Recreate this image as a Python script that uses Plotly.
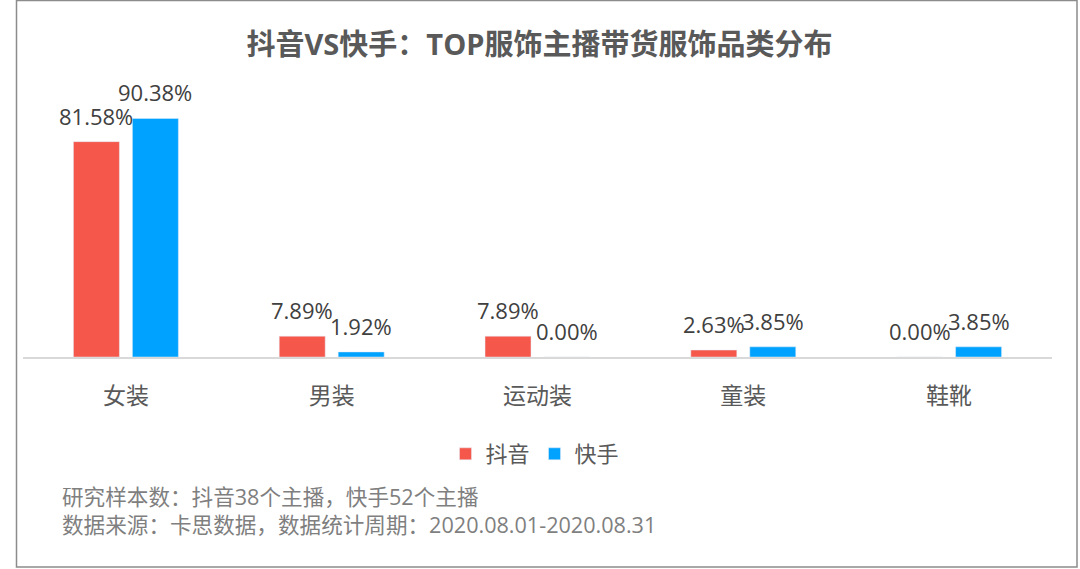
import plotly.graph_objects as go

categories = ["女装", "男装", "运动装", "童装", "鞋靴"]
douyin = [81.58, 7.89, 7.89, 2.63, 0.00]
kuaishou = [90.38, 1.92, 0.00, 3.85, 3.85]
series_names = ["抖音", "快手"]
title_text = "抖音VS快手：TOP服饰主播带货服饰品类分布"
notes = ["研究样本数：抖音38个主播，快手52个主播",
         "数据来源：卡思数据，数据统计周期：2020.08.01-2020.08.31"]

FONT = "Open Sans, Noto Sans CJK SC, sans-serif"
colors = ["#F5574B", "#00A2FF"]

fig = go.Figure()
for name, vals, c in zip(series_names, [douyin, kuaishou], colors):
    fig.add_trace(go.Bar(x=categories, y=vals, name=name, marker_color=c,
                         hoverinfo="skip"))

L, R, T, B = 23, 28, 93, 212
W, H = 1080, 569
pw, ph = W - L - R, H - T - B

def px(x):
    return (x - L) / pw

def py(y):
    return (H - B - y) / ph

# value labels above bars
slot = pw / len(categories) * (1 - 0.427) / 2
for k, vals in enumerate([douyin, kuaishou]):
    shift = (k - 0.5) * slot
    for cat, v in zip(categories, vals):
        fig.add_annotation(x=cat, y=v, xref="x", yref="y", text=f"{v:.2f}%",
                           showarrow=False, xshift=shift, yanchor="bottom", yshift=9,
                           font=dict(size=22, color="#404040", family=FONT))

fig.update_layout(
    width=W, height=H,
    margin=dict(l=L, r=R, t=T, b=B),
    paper_bgcolor="white", plot_bgcolor="white",
    barmode="group", bargap=0.427, bargroupgap=0.22,
    title=dict(text="<b>" + title_text + "</b>", x=px(537), xanchor="center",
               y=1 - 45 / H, yanchor="middle",
               font=dict(size=29, color="#595959", family=FONT)),
    xaxis=dict(showline=True, linecolor="#D9D9D9", linewidth=1.5,
               ticks="", showgrid=False,
               tickfont=dict(size=23, color="#595959", family=FONT),
               ticklabelstandoff=18),
    yaxis=dict(range=[0, 100], visible=False, showgrid=False),
    legend=dict(orientation="h", x=px(535), xanchor="center",
                y=py(454), yanchor="middle",
                font=dict(size=22, color="#595959", family=FONT),
                itemwidth=30, traceorder="normal"),
    showlegend=True,
)

fig.add_annotation(text="<br>".join(notes), xref="paper", yref="paper",
                   x=px(60), y=py(510), xanchor="left", yanchor="middle",
                   align="left", showarrow=False,
                   font=dict(size=21.6, color="#7F7F7F", family=FONT))

fig.add_shape(type="rect", xref="paper", yref="paper",
              x0=px(16.5), x1=px(1077), y0=py(567), y1=py(0.5),
              line=dict(color="#8C8C8C", width=1.5), fillcolor="rgba(0,0,0,0)")

fig.write_html("out.html", config={"displayModeBar": False})

with open("out.html", "r", encoding="utf-8") as f:
    html = f.read()
html = html.replace("<head>", "<head><style>html,body{margin:0;padding:0;overflow:hidden;}</style>", 1)
with open("out.html", "w", encoding="utf-8") as f:
    f.write(html)
